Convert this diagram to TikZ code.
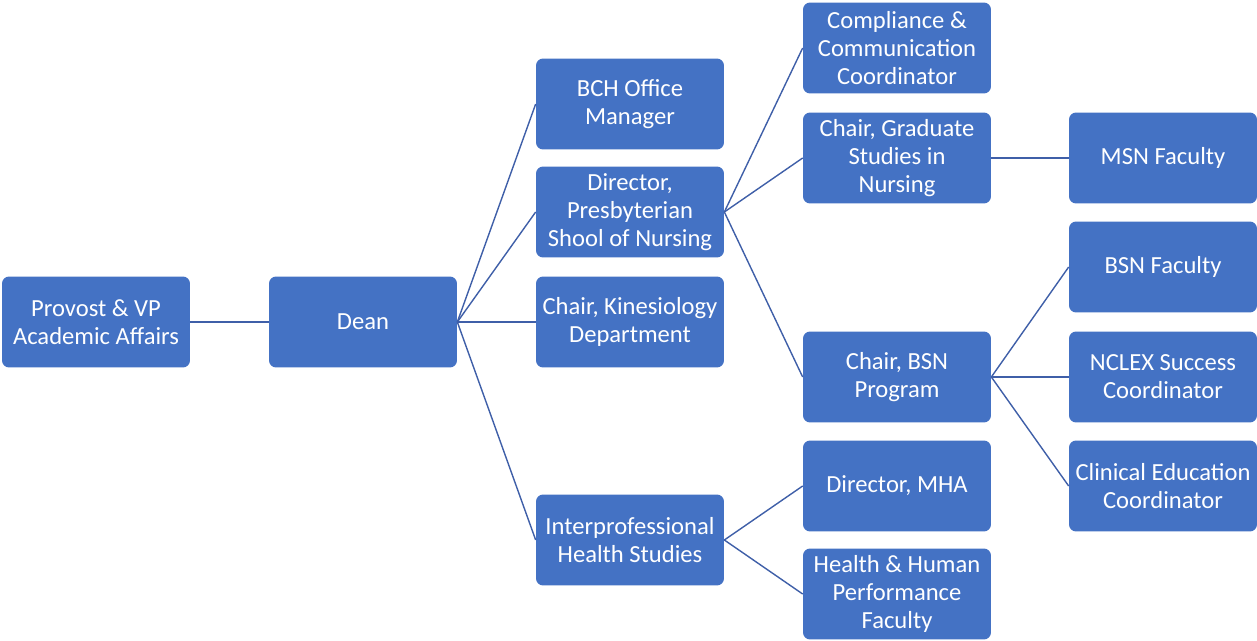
\documentclass[tikz,border=0pt]{standalone}
\usepackage{fontspec}
\setmainfont{Carlito}
\definecolor{boxblue}{HTML}{4472C4}
\definecolor{lineblue}{HTML}{3F5FA8}
\tikzstyle{unit}=[rectangle,rounded corners=4pt,fill=boxblue,text=white,minimum width=3.76cm,minimum height=1.82cm,inner sep=1pt,align=center,font=\fontsize{14}{15.9}\selectfont]
\tikzstyle{link} = [draw,lineblue,line width=0.8pt]

\begin{document}
\begin{tikzpicture}[x=0.02cm,y=-0.02cm]
    \useasboundingbox (0,0) rectangle (1257,641);
    % Units of the organisation, placed column by column
    \foreach \pos/\name/\txt in {{(96,322)/provost/{Provost \& VP\\Academic Affairs}},
        {(363,322)/dean/{Dean}},
        {(630,104)/bch/{BCH Office\\Manager}},
        {(630,212)/psn/{Director,\\Presbyterian\\Shool of Nursing}},
        {(630,322)/kin/{Chair, Kinesiology\\Department}},
        {(630,540)/ihs/{Interprofessional\\Health Studies}},
        {(897,48)/comp/{Compliance \&\\Communication\\Coordinator}},
        {(897,158)/grad/{Chair, Graduate\\Studies in\\Nursing}},
        {(897,377)/bsn/{Chair, BSN\\Program}},
        {(897,486)/mha/{Director, MHA}},
        {(897,594)/hhp/{Health \& Human\\Performance\\Faculty}},
        {(1163,158)/msnfac/{MSN Faculty}},
        {(1163,267)/bsnfac/{BSN Faculty}},
        {(1163,377)/nclex/{NCLEX Success\\Coordinator}},
        {(1163,486)/clin/{Clinical Education\\Coordinator}}}
        \node[unit] (\name) at \pos {\txt};

    % Reporting lines
    \foreach \source/\dest in {provost/dean,dean/bch,dean/psn,dean/kin,dean/ihs,
        psn/comp,psn/grad,psn/bsn,ihs/mha,ihs/hhp,grad/msnfac,
        bsn/bsnfac,bsn/nclex,bsn/clin}
        \path[link] (\source.east) -- (\dest.west);
\end{tikzpicture}
\end{document}
